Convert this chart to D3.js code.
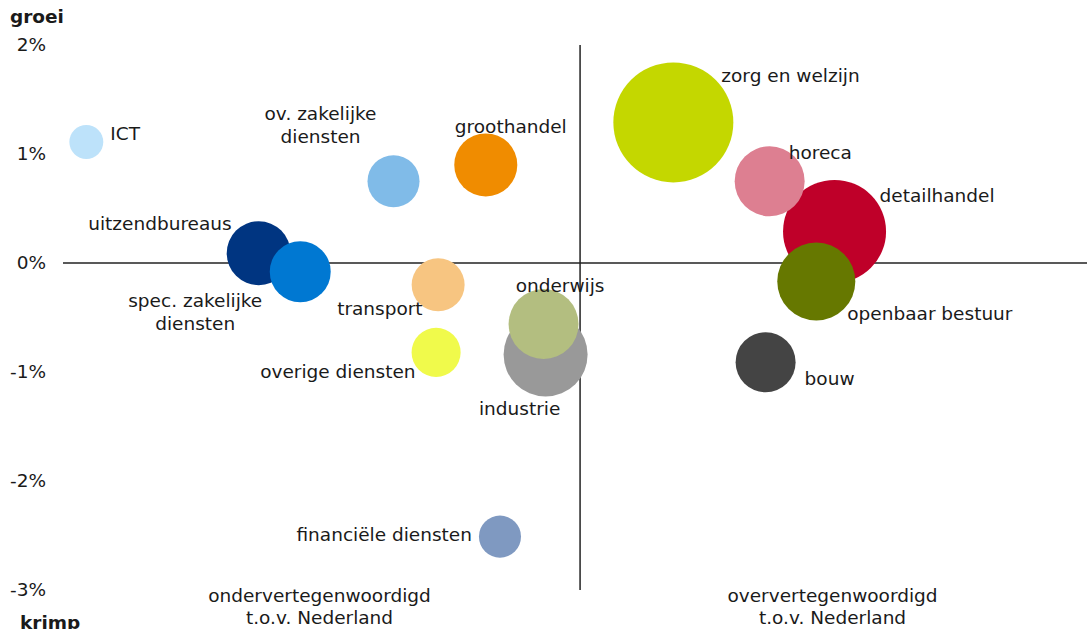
<!DOCTYPE html>
<html>
<head>
<meta charset="utf-8">
<script src="https://cdn.jsdelivr.net/npm/d3@7"></script>
<style>
  body { margin: 0; background: #fff; }
  text { font-family: Verdana, "DejaVu Sans", sans-serif; fill: #1a1a1a; }
</style>
</head>
<body>
<div id="root"></div>
<script>
// sectors (draw order matters for the overlaps)
const sectors = ["ICT", "uitzendbureaus", "spec. zakelijke\ndiensten", "ov. zakelijke\ndiensten",
  "groothandel", "transport", "overige diensten", "industrie", "onderwijs", "financiële diensten",
  "zorg en welzijn", "detailhandel", "horeca", "openbaar bestuur", "bouw"];

// x: over/ondervertegenwoordiging t.o.v. Nederland (index points)
const representation = [-48.7, -31.7, -27.6, -18.4, -9.3, -14.0, -14.2, -3.4, -3.6, -7.9,
  9.2, 25.1, 18.7, 23.3, 18.3];
// y: groei werkgelegenheid (%)
const growth = [1.11, 0.09, -0.08, 0.75, 0.90, -0.20, -0.82, -0.84, -0.56, -2.51,
  1.29, 0.29, 0.75, -0.17, -0.91];
// bubble size: aantal banen (relative)
const jobs = [8.0, 28.4, 25.8, 18.8, 27.6, 19.5, 16.7, 49, 34, 12.3,
  100, 73.7, 34, 42.3, 25];
const colors = ["#bde2fa", "#003581", "#0078d2", "#80bbe8", "#f08c00", "#f7c581", "#f0fa4b",
  "#999999", "#b3be80", "#7f99c1", "#c4d700", "#bf0029", "#dd7f91", "#667800", "#444444"];

const yTicks = [2, 1, 0, -1, -2, -3];

// label placement relative to bubble centre: [dx, dy, anchor]
const labelPos = [
  [24, -2, "start"], [-27, -23.5, "end"], [-105, 35.5, "middle"], [-73, -61, "middle"],
  [25, -32, "middle"], [-15.5, 30, "end"], [-20.5, 25.5, "end"], [-26, 60, "middle"],
  [16.5, -32, "middle"], [-28, 4.5, "end"], [48, -40, "start"], [45, -29, "start"],
  [19, -22, "start"], [31, 38.5, "start"], [39, 22.5, "start"]
];

const width = 1087, height = 629;
const fontSize = 18.5;

const x = d3.scaleLinear().domain([-51, 50]).range([63, 1087]);
const y = d3.scaleLinear().domain([-3, 2]).range([590, 45]);
const r = d3.scaleSqrt().domain([0, 100]).range([0, 60]);

const svg = d3.select("#root").append("svg")
  .attr("width", width)
  .attr("height", height);

// axis lines through zero
svg.append("line")
  .attr("x1", x(-51)).attr("x2", x(50))
  .attr("y1", y(0)).attr("y2", y(0))
  .attr("stroke", "#222").attr("stroke-width", 1.5);
svg.append("line")
  .attr("x1", x(0)).attr("x2", x(0))
  .attr("y1", y(2)).attr("y2", y(-3))
  .attr("stroke", "#222").attr("stroke-width", 1.5);

// y tick labels
svg.selectAll(".ytick")
  .data(yTicks)
  .join("text")
  .attr("class", "ytick")
  .attr("x", 46)
  .attr("y", d => y(d))
  .attr("dy", "0.35em")
  .attr("text-anchor", "end")
  .style("font-size", fontSize + "px")
  .text(d => d + "%");

svg.append("text").attr("x", 10).attr("y", 23)
  .style("font-size", fontSize + "px").style("font-weight", "bold").text("groei");
svg.append("text").attr("x", 20).attr("y", 629)
  .style("font-size", fontSize + "px").style("font-weight", "bold").text("krimp");

// quadrant captions
const captions = [
  { cx: x(-25.7), lines: ["ondervertegenwoordigd", "t.o.v. Nederland"] },
  { cx: x(24.9), lines: ["oververtegenwoordigd", "t.o.v. Nederland"] }
];
captions.forEach(c => {
  const t = svg.append("text")
    .attr("text-anchor", "middle")
    .style("font-size", fontSize + "px");
  c.lines.forEach((l, i) => {
    t.append("tspan").attr("x", c.cx).attr("y", 602 + i * 22).text(l);
  });
});

const data = sectors.map((s, i) => ({
  name: s, x: representation[i], y: growth[i], size: jobs[i], color: colors[i], pos: labelPos[i]
}));

svg.selectAll(".bubble")
  .data(data)
  .join("circle")
  .attr("class", "bubble")
  .attr("cx", d => x(d.x))
  .attr("cy", d => y(d.y))
  .attr("r", d => r(d.size))
  .attr("fill", d => d.color);

const labels = svg.selectAll(".label")
  .data(data)
  .join("text")
  .attr("class", "label")
  .attr("text-anchor", d => d.pos[2])
  .style("font-size", fontSize + "px");

labels.each(function (d) {
  const t = d3.select(this);
  d.name.split("\n").forEach((line, i) => {
    t.append("tspan")
      .attr("x", x(d.x) + d.pos[0])
      .attr("y", y(d.y) + d.pos[1] + i * 22.5)
      .text(line);
  });
});
</script>
</body>
</html>
